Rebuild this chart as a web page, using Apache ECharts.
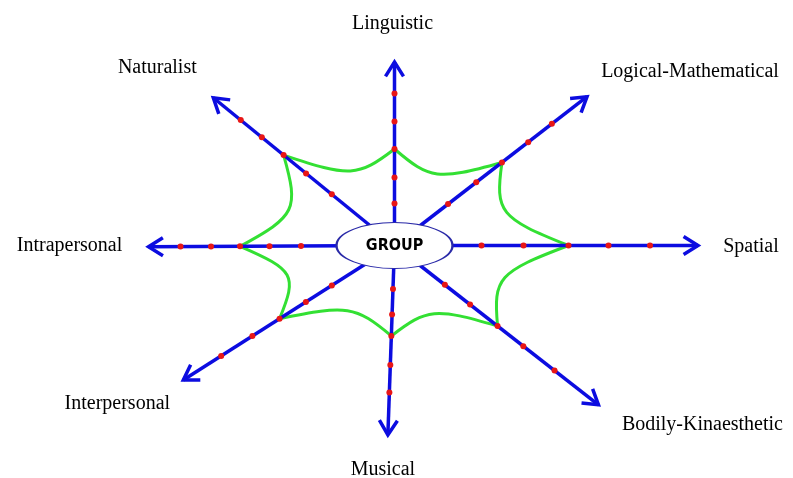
<!DOCTYPE html>
<html>
<head>
<meta charset="utf-8">
<script src="https://cdn.jsdelivr.net/npm/echarts@6/dist/echarts.min.js"></script>
<style>
    html, body { margin: 0; padding: 0; background: #fff; }
    #star { width: 793px; height: 478px; }
</style>
</head>
<body>
<div id="star"></div>
<script>
// 8 intelligences, clockwise from the top
var categories = ['Linguistic', 'Logical-Mathematical', 'Spatial', 'Bodily-Kinaesthetic',
    'Musical', 'Interpersonal', 'Intrapersonal', 'Naturalist'];
// direction of each arm (degrees, 0 = right, counter-clockwise)
var axisAngles = [90, 37.7, 0, -38, -92, -147.5, 180.3, 140.8];
// arm lengths from the centre
var axisLengths = [183.5, 243.3, 303.5, 258.8, 189.5, 250.4, 246, 233.8];
// distances of the red marks along each arm
var tickDistances = [
    [42, 68, 96.5, 124, 152],
    [67.7, 103.3, 135.8, 169, 198.9],
    [87, 129, 174, 214, 255.5],
    [63.9, 95.9, 130.8, 163.5, 203.1],
    [43.5, 69, 90.5, 119.5, 147],
    [74.3, 105.1, 136.3, 168.5, 205.5],
    [93.5, 125, 154.5, 183.5, 214],
    [80.9, 114.1, 143.1, 171.2, 198.4]
];
// which mark (1-based) the group profile passes through on each arm
var groupLevel = [3, 3, 3, 3, 3, 3, 3, 3];
var centerText = 'GROUP';

// label offsets from the arrow tips (layout only)
var labelOffsets = [[-2, 38], [103, 25], [53, -1], [104, -20], [-5, -35], [-66, -24], [-79, 1], [-56, 30]];

function polar(angle, dist) {
    var r = angle * Math.PI / 180;
    return [dist * Math.cos(r), dist * Math.sin(r)];
}

var armData = [], dotData = [], profileData = [], labelData = [];
for (var i = 0; i < categories.length; i++) {
    armData.push([axisAngles[i], axisLengths[i]]);
    for (var j = 0; j < tickDistances[i].length; j++) {
        dotData.push(polar(axisAngles[i], tickDistances[i][j]));
    }
    profileData.push(polar(axisAngles[i], tickDistances[i][groupLevel[i] - 1]));
    var tip = polar(axisAngles[i], axisLengths[i]);
    labelData.push([tip[0] + labelOffsets[i][0], tip[1] + labelOffsets[i][1], categories[i]]);
}

var blue = '#0c0ce0';

var chart = echarts.init(document.getElementById('star'));
var option = {
    animation: false,
    backgroundColor: '#fff',
    grid: { left: 0, right: 0, top: 0, bottom: 0 },
    xAxis: { type: 'value', min: -394.5, max: 398.5, show: false },
    yAxis: { type: 'value', min: -232.5, max: 245.5, show: false },
    series: [
        {
            // green profile, concave arcs between the group marks
            type: 'custom',
            z: 1,
            data: profileData,
            renderItem: function (params, api) {
                var n = profileData.length;
                var a = api.coord(profileData[params.dataIndex]);
                var b = api.coord(profileData[(params.dataIndex + 1) % n]);
                var o = api.coord([0, 0]);
                var s = 0.33, p = 0.27;
                return {
                    type: 'bezierCurve',
                    shape: {
                        x1: a[0], y1: a[1], x2: b[0], y2: b[1],
                        cpx1: a[0] + s * (b[0] - a[0]) + p * (o[0] - a[0]),
                        cpy1: a[1] + s * (b[1] - a[1]) + p * (o[1] - a[1]),
                        cpx2: b[0] + s * (a[0] - b[0]) + p * (o[0] - b[0]),
                        cpy2: b[1] + s * (a[1] - b[1]) + p * (o[1] - b[1])
                    },
                    style: { stroke: '#33e033', lineWidth: 3, fill: null }
                };
            }
        },
        {
            // blue arms with open arrow heads
            type: 'custom',
            z: 2,
            data: armData,
            renderItem: function (params, api) {
                var o = api.coord([0, 0]);
                var t = api.coord(polar(api.value(0), api.value(1)));
                var dx = t[0] - o[0], dy = t[1] - o[1];
                var len = Math.sqrt(dx * dx + dy * dy);
                dx /= len; dy /= len;
                var arm = 17, ang = 32 * Math.PI / 180;
                var c = Math.cos(ang), sn = Math.sin(ang);
                var l = [t[0] - arm * (dx * c - dy * sn), t[1] - arm * (dy * c + dx * sn)];
                var r = [t[0] - arm * (dx * c + dy * sn), t[1] - arm * (dy * c - dx * sn)];
                return {
                    type: 'group',
                    children: [
                        {
                            type: 'line',
                            shape: { x1: o[0], y1: o[1], x2: t[0], y2: t[1] },
                            style: { stroke: blue, lineWidth: 3.5 }
                        },
                        {
                            type: 'polyline',
                            shape: { points: [l, t, r] },
                            style: { stroke: blue, lineWidth: 3.5, fill: null, lineJoin: 'miter' }
                        }
                    ]
                };
            }
        },
        {
            type: 'scatter',
            z: 3,
            data: dotData,
            symbol: 'circle',
            symbolSize: 6,
            itemStyle: { color: '#e81616', opacity: 1 }
        },
        {
            type: 'scatter',
            z: 4,
            data: [[0, 0]],
            symbol: 'circle',
            symbolSize: [116, 46],
            itemStyle: { color: '#fff', borderColor: '#2a2aa8', borderWidth: 1.5, opacity: 1 },
            label: {
                show: true,
                position: 'inside',
                formatter: centerText,
                color: '#000',
                fontFamily: '"Liberation Sans Narrow", "DejaVu Sans Condensed", sans-serif',
                fontWeight: 'bold',
                fontSize: 16
            }
        },
        {
            type: 'scatter',
            z: 5,
            data: labelData,
            symbolSize: 0,
            itemStyle: { opacity: 1 },
            label: {
                show: true,
                position: 'inside',
                formatter: function (p) { return p.data[2]; },
                color: '#000',
                fontFamily: '"Liberation Serif", "DejaVu Serif", serif',
                fontSize: 20
            }
        }
    ]
};
chart.setOption(option);
</script>
</body>
</html>
